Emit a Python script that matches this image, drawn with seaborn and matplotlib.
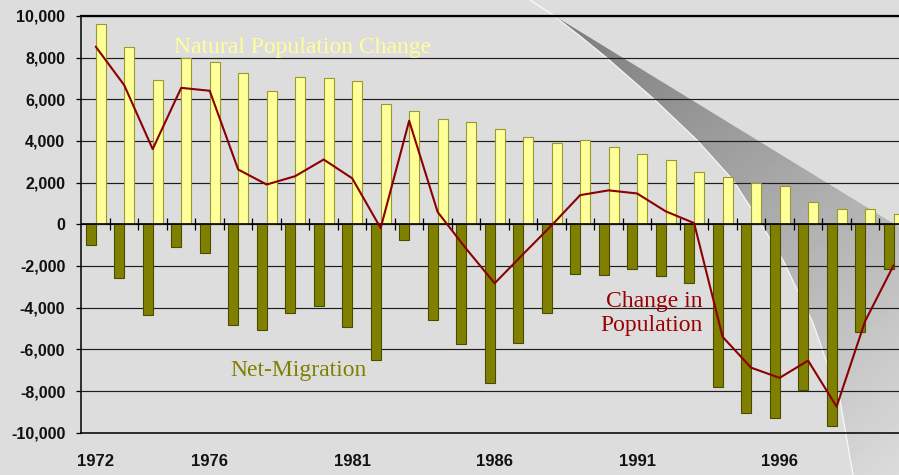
import matplotlib
matplotlib.use("Agg")
import matplotlib.pyplot as plt
import numpy as np
import pandas as pd
import seaborn as sns
from matplotlib.patches import Polygon
from matplotlib.ticker import FuncFormatter

OUT_PATH = "out.png"

years = list(range(1972, 2001))
natural_change = [
    9600, 8500, 6950, 8000, 7800, 7270, 6400, 7050, 7000, 6900,
    5780, 5430, 5060, 4920, 4570, 4170, 3910, 4070, 3700, 3370,
    3110, 2530, 2290, 1960, 1830, 1090, 750, 750, 480,
]
net_migration = [
    -980, -2560, -4340, -1070, -1380, -4820, -5060, -4250, -3930, -4920,
    -6490, -740, -4600, -5750, -7630, -5720, -4250, -2390, -2450, -2130,
    -2480, -2840, -7800, -9050, -9290, -7950, -9660, -5160, -2130,
]
population_change = [
    8530, 6680, 3610, 6550, 6410, 2630, 1910, 2310, 3110, 2210,
    -180, 4970, 590, -1170, -2830, -1430, -50, 1400, 1630, 1480,
    625, 60, -5400, -6880, -7370, -6540, -8750, -4650, -1970,
]
label_years = [1972, 1976, 1981, 1986, 1991, 1996]

BG = "#DDDDDD"
YELLOW = "#FFFF99"
OLIVE = "#808000"
DARK_RED = "#8B0000"

# page curl decoration, figure pixel coords (top-left origin)
CURL_EDGE = [(553, 15), (580, 36), (607, 58), (655, 100), (697, 140), (733, 180),
             (760, 222), (783, 260), (813, 323), (840, 400), (853, 475)]


def draw_curl(fig) -> None:
    bg = fig.add_axes([0, 0, 1, 1], zorder=-5)
    bg.set_xlim(0, 899)
    bg.set_ylim(475, 0)
    bg.axis("off")
    bg.set_facecolor(BG)
    poly = Polygon(CURL_EDGE + [(899, 475), (899, 227)], closed=True,
                   facecolor="none", edgecolor="none")
    bg.add_patch(poly)
    xx, yy = np.meshgrid(np.arange(899), np.arange(475))
    d = np.array([346.0, 460.0])
    t = ((xx - 553) * d[0] + (yy - 15) * d[1]) / (d @ d)
    gray = 0.48 + 0.38 * np.clip(t, 0, 1)
    img = bg.imshow(gray, cmap="gray", vmin=0, vmax=1, extent=(0, 899, 475, 0),
                    aspect="auto", interpolation="bilinear")
    img.set_clip_path(poly)
    curve = [(530, 0)] + CURL_EDGE
    bg.plot([p[0] for p in curve], [p[1] for p in curve], color="white", lw=0.9, alpha=0.85)


def main() -> None:
    sns.set_theme(style="white")
    plt.rcParams["font.family"] = ["Liberation Sans", "DejaVu Sans"]

    fig = plt.figure(figsize=(8.99, 4.75), dpi=100, facecolor=BG)
    draw_curl(fig)

    ax = fig.add_axes([0.0906, 0.0891, 0.9094, 0.8773])
    ax.set_facecolor("none")

    bars = pd.DataFrame({
        "year": years + years,
        "value": net_migration + natural_change,
        "series": ["Net-Migration"] * len(years) + ["Natural Population Change"] * len(years),
    })
    sns.barplot(
        data=bars, x="year", y="value", hue="series",
        hue_order=["Net-Migration", "Natural Population Change"],
        palette=[OLIVE, YELLOW], saturation=1, width=0.7, legend=False, ax=ax, zorder=3,
    )
    edge_colors = ["#4A4A00", "#9A9A2A"]
    for container, ec in zip(ax.containers, edge_colors):
        for bar in container:
            bar.set_edgecolor(ec)
            bar.set_linewidth(0.8)

    positions = np.arange(len(years))
    sns.lineplot(x=positions, y=population_change, color=DARK_RED, lw=1.5, ax=ax, zorder=5)

    # zero line with category boundary ticks
    ax.axhline(0, color="black", lw=1.2, zorder=4)
    ax.plot(positions + 0.5, np.zeros(len(years)), ls="none", marker="|",
            ms=8.5, mew=0.9, color="black", zorder=4)

    ax.set_xlim(-0.5, 28.19)
    ax.set_ylim(-10000, 10000)
    ax.set_yticks(np.arange(-10000, 10001, 2000))
    ax.yaxis.set_major_formatter(FuncFormatter(lambda v, _: f"{v:,.0f}"))
    ax.set_xticks([years.index(y) for y in label_years])
    ax.set_xticklabels([str(y) for y in label_years])
    ax.set_xlabel("")
    ax.set_ylabel("")

    ax.yaxis.grid(True, color="#1E1E1E", lw=0.85)
    ax.set_axisbelow(True)
    for label in ax.get_yticklabels():
        label.set_fontweight("bold")
        label.set_fontsize(11.5)
        label.set_color("#111111")
    for label in ax.get_xticklabels():
        label.set_fontweight("bold")
        label.set_fontsize(12)
        label.set_color("#111111")
    ax.tick_params(axis="y", left=True, length=3.6, width=0.9, color="black", pad=8)
    ax.tick_params(axis="x", bottom=False, length=0, pad=15)

    ax.spines["right"].set_visible(False)
    ax.spines["top"].set_linewidth(1.6)
    ax.spines["top"].set_color("black")
    ax.spines["left"].set_linewidth(1.1)
    ax.spines["left"].set_color("black")
    ax.spines["bottom"].set_linewidth(1.1)
    ax.spines["bottom"].set_color("black")

    serif = ["Liberation Serif", "DejaVu Serif"]
    ax.text(7.26, 8220, "Natural Population Change", family=serif, fontsize=17,
            color=YELLOW, ha="center", va="baseline", zorder=6)
    ax.text(7.12, -7260, "Net-Migration", family=serif, fontsize=17,
            color=OLIVE, ha="center", va="baseline", zorder=6)
    ax.text(21.31, -5100, "Change in\nPopulation", family=serif, fontsize=17,
            color="#990000", ha="right", va="baseline", multialignment="right",
            linespacing=1.15, zorder=6)

    fig.savefig(OUT_PATH, dpi=100, facecolor=BG)
    plt.close(fig)


if __name__ == "__main__":
    main()
